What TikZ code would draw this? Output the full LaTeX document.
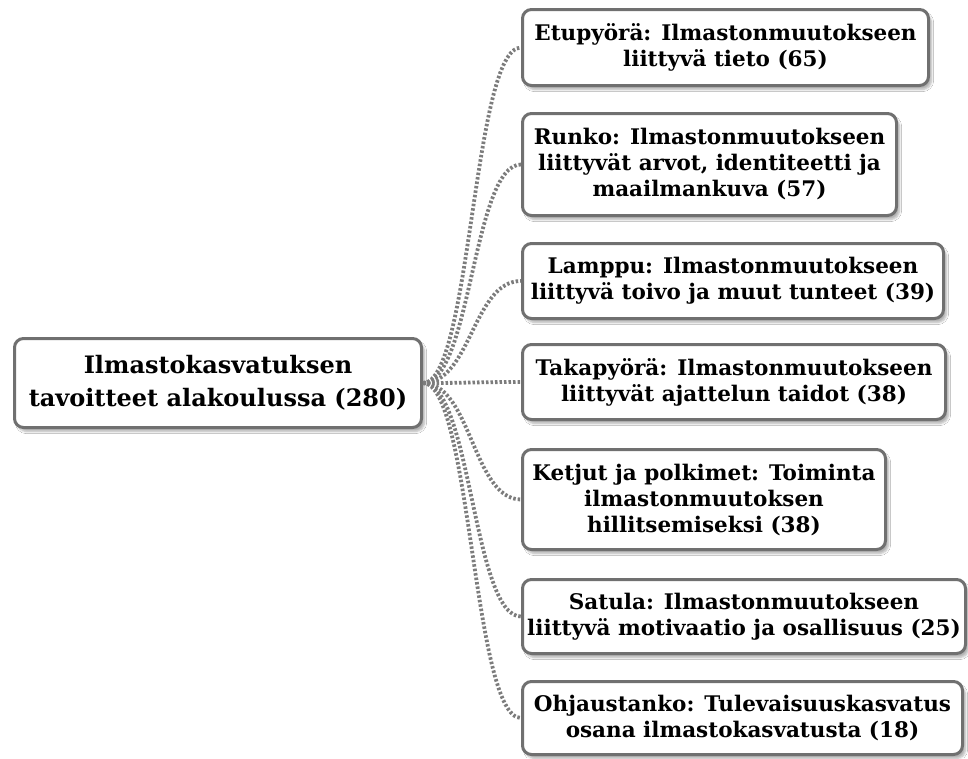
\documentclass[tikz,border=0pt]{standalone}
\usepackage{fontspec}
\setmainfont{DejaVu Serif}
\usetikzlibrary{shadows.blur}
\definecolor{edgegray}{HTML}{707070}
\definecolor{linkgray}{HTML}{7C7C7C}
\begin{document}
\begin{tikzpicture}[x=1pt,y=-1pt,
  box/.style={draw=edgegray, line width=3pt, fill=white, rounded corners=9pt,
    align=center, inner sep=0pt,
    font=\bfseries\fontsize{21.5}{26}\selectfont,
    blur shadow={shadow xshift=3pt, shadow yshift=-4pt, shadow opacity=30, shadow blur steps=6}},
  rootbox/.style={box, font=\bfseries\fontsize{24}{33}\selectfont},
  link/.style={draw=linkgray, line width=3.8pt, dash pattern=on 2.5pt off 2pt}]
\fill[white] (0,0) rectangle (968,758);
\useasboundingbox (0,0) rectangle (968,758);

% central topic
\node[rootbox, minimum width=407pt, minimum height=89pt] (root) at (218,383)
  {Ilmastokasvatuksen\\tavoitteet alakoulussa (280)};

% sub-goals
\node[box, minimum width=406pt, minimum height=76pt] (b1) at (725.5,47.5)
  {Etupyörä: Ilmastonmuutokseen\\liittyvä tieto (65)};
\node[box, minimum width=374pt, minimum height=102pt] (b2) at (709.5,164.5)
  {Runko: Ilmastonmuutokseen\\liittyvät arvot, identiteetti ja\\maailmankuva (57)};
\node[box, minimum width=421pt, minimum height=75pt] (b3) at (733,281)
  {Lamppu: Ilmastonmuutokseen\\liittyvä toivo ja muut tunteet (39)};
\node[box, minimum width=423pt, minimum height=75pt] (b4) at (734,382)
  {Takapyörä: Ilmastonmuutokseen\\liittyvät ajattelun taidot (38)};
\node[box, minimum width=363pt, minimum height=100pt] (b5) at (704,499.5)
  {Ketjut ja polkimet: Toiminta\\ilmastonmuutoksen\\hillitsemiseksi (38)};
\node[box, minimum width=443pt, minimum height=74pt] (b6) at (744,616.5)
  {Satula: Ilmastonmuutokseen\\liittyvä motivaatio ja osallisuus (25)};
\node[box, minimum width=440pt, minimum height=73pt] (b7) at (742.5,718)
  {Ohjaustanko: Tulevaisuuskasvatus\\osana ilmastokasvatusta (18)};

% dotted connectors
\foreach \n in {b1,b2,b3,b4,b5,b6,b7}
  \draw[link] (root.east) .. controls +(48,0) and +(-48,0) .. (\n.west);
\end{tikzpicture}
\end{document}
